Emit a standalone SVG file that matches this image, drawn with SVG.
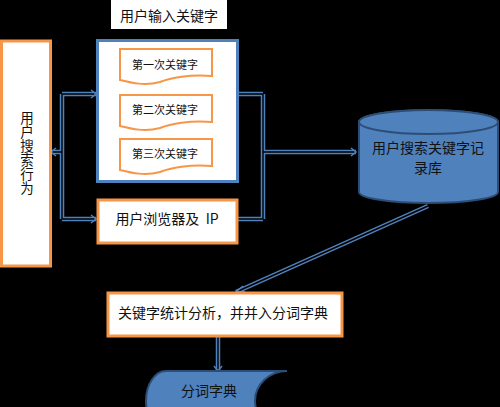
<svg xmlns="http://www.w3.org/2000/svg" width="500" height="407" viewBox="0 0 500 407">
<style>
text{font-family:"Noto Sans CJK SC","Liberation Sans",sans-serif;fill:#111;text-anchor:middle;dominant-baseline:central}
.ob{fill:#fff;stroke:#f79646;stroke-width:3}
.doc{fill:#fff;stroke:#f79646;stroke-width:2}
.co{fill:none;stroke:#4f81bd;stroke-width:4.5}
.ci{fill:none;stroke:#000;stroke-width:1.4}
.db{fill:#4f81bd;stroke:#2c4d75;stroke-width:2}
.ar{fill:none;stroke:#4f81bd;stroke-width:1.5}
</style>
<rect x="0" y="0" width="500" height="407" fill="#000"/>
<g id="connectors">
<path class="co" d="M51,152 H62 M62,94 V219 M62,94 H96 M62,219 H96 M239,94 H263 M238,219 H263 M263,94 V219 M263,152 H356 M428,206 L236,292 M218,337 V371"/>
<path class="ci" d="M51,152 H62 M62,94 V219 M62,94 H96 M62,219 H96 M239,94 H263 M238,219 H263 M263,94 V219 M263,152 H356 M428,206 L236,292 M218,337 V371"/>
<path class="ar" d="M91,90 L96,94 L91,98 M91,215 L96,219 L91,223 M351,148 L356,152 L351,156 M56,148 L51,152 L56,156 M214,366 L218,371 L222,366 M243,286 L236,292 L245,292"/>
</g>
<g id="behavior">
<rect class="ob" x="1.5" y="41" width="49" height="225"/>
<text x="27" y="153" font-size="13.5" letter-spacing="0.5" style="writing-mode:vertical-rl">用户搜索行为</text>
</g>
<g id="input-label">
<rect x="111" y="0" width="116" height="29" fill="#fff"/>
<text x="169" y="15" font-size="14">用户输入关键字</text>
</g>
<g id="keywords">
<rect x="97.5" y="40.5" width="140" height="141" fill="#fff" stroke="#4f81bd" stroke-width="3"/>
</g>
<g id="kw1">
<path class="doc" d="M120,49 H212 V76 C190,74 170,78 160,82 C145,86 132,83 120,80 Z"/>
<text x="165" y="64" font-size="11">第一次关键字</text>
</g>
<g id="kw2">
<path class="doc" d="M120,95 H212 V122 C190,120 170,124 160,128 C145,132 132,129 120,126 Z"/>
<text x="165" y="109" font-size="11">第二次关键字</text>
</g>
<g id="kw3">
<path class="doc" d="M120,139 H212 V166 C190,164 170,168 160,172 C145,176 132,173 120,170 Z"/>
<text x="165" y="153" font-size="11">第三次关键字</text>
</g>
<g id="browser">
<rect class="ob" x="98" y="200" width="139" height="43"/>
<text x="167" y="218" font-size="14" xml:space="preserve">用户浏览器及  IP</text>
</g>
<g id="db">
<path class="db" d="M359,122 A69.5,12 0 0 1 498,122 V192 A69.5,11 0 0 1 359,192 Z"/>
<ellipse class="db" cx="428.5" cy="122" rx="69.5" ry="12"/>
<text x="428" y="147" font-size="14" fill="#14243d">用户搜索关键字记</text>
<text x="428" y="167" font-size="14" fill="#14243d">录库</text>
</g>
<g id="analysis">
<rect class="ob" x="108" y="293" width="234" height="43"/>
<text x="223" y="312" font-size="14">关键字统计分析，并并入分词字典</text>
</g>
<g id="dict">
<path class="db" d="M166,371 H287 A32,30 0 0 0 287,431 H166 A20,30 0 0 1 166,371 Z"/>
<text x="209" y="390" font-size="14" fill="#14243d">分词字典</text>
</g>
</svg>
